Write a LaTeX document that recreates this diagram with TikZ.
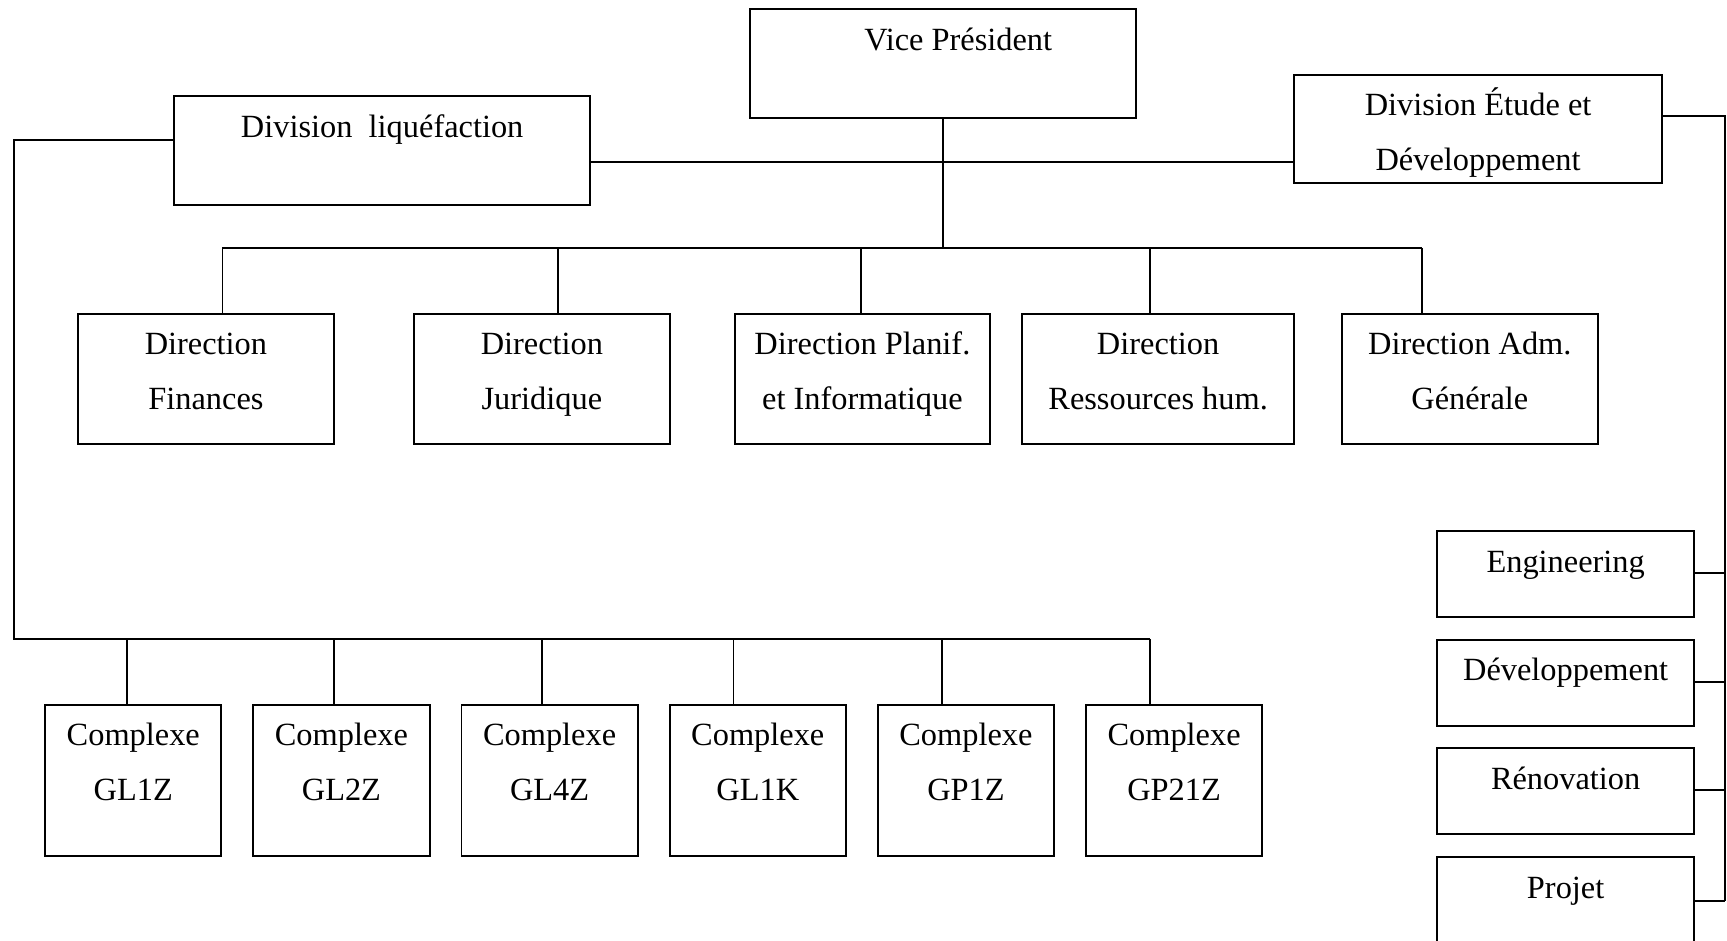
\documentclass[tikz,border=0pt]{standalone}
\usepackage{fontspec}
\setmainfont{Liberation Serif}
\begin{document}
\begin{tikzpicture}[x=0.5pt,y=-0.5pt,
  box/.style={draw, line width=0.9pt, rectangle, inner sep=0pt},
  txt/.style={anchor=base, inner sep=0pt, font=\fontsize{14.7pt}{18pt}\selectfont},
  conn/.style={line width=0.85pt}]
\useasboundingbox (0,0) rectangle (1568,854);
\fill[white] (0,0) rectangle (1568,854);
\clip (0,0) rectangle (1568,854);

% top level
\node[box, minimum width=175pt, minimum height=49.5pt] (vp) at (856,57.5) {};
\node[txt] (tvp) at (870,46) {Vice Président};
\node[box, minimum width=189pt, minimum height=49.5pt] (dl) at (347,136.5) {};
\node[txt] (tdl) at (347,125) {Division\ \ liquéfaction};
\node[box, minimum width=167pt, minimum height=49pt] (de) at (1342,117) {};
\node[txt] (tde1) at (1342,105) {Division Étude et};
\node[txt] (tde2) at (1342,155) {Développement};

% directions
\node[box, minimum width=116pt, minimum height=59pt] (d1) at (187,344) {};
\node[txt] at (187,322) {Direction};
\node[txt] at (187,372) {Finances};
\node[box, minimum width=116pt, minimum height=59pt] (d2) at (492,344) {};
\node[txt] at (492,322) {Direction};
\node[txt] at (492,372) {Juridique};
\node[box, minimum width=116pt, minimum height=59pt] (d3) at (783,344) {};
\node[txt] at (783,322) {Direction Planif.};
\node[txt] at (783,372) {et Informatique};
\node[box, minimum width=123.5pt, minimum height=59pt] (d4) at (1051.5,344) {};
\node[txt] at (1051.5,322) {Direction};
\node[txt] at (1051.5,372) {Ressources hum.};
\node[box, minimum width=116.5pt, minimum height=59pt] (d5) at (1334.5,344) {};
\node[txt] at (1334.5,322) {Direction Adm.};
\node[txt] at (1334.5,372) {Générale};

% complexes
\foreach \n/\cx/\lab in {c1/121/GL1Z, c2/310/GL2Z, c3/499/GL4Z, c4/688/GL1K, c5/877/GP1Z, c6/1066/GP21Z}{
  \node[box, minimum width=80pt, minimum height=68.5pt] (\n) at (\cx,708.5) {};
  \node[txt] at (\cx,677) {Complexe};
  \node[txt] at (\cx,727) {\lab};
}

% sub-divisions
\node[box, minimum width=116.5pt, minimum height=39pt] (eng) at (1421.5,521) {};
\node[txt] at (1421.5,520) {Engineering};
\node[box, minimum width=116.5pt, minimum height=39pt] (dev) at (1421.5,620) {};
\node[txt] at (1421.5,618) {Développement};
\node[box, minimum width=116.5pt, minimum height=39pt] (ren) at (1421.5,718) {};
\node[txt] at (1421.5,717) {Rénovation};
\node[box, minimum width=116.5pt, minimum height=50pt] (proj) at (1421.5,828) {};
\node[txt] at (1421.5,816) {Projet};

% connectors: VP to directions
\coordinate (jD) at (856,225);
\coordinate (j1) at (202,225);
\coordinate (j2) at (507,225);
\coordinate (j3) at (782,225);
\coordinate (j4) at (1044,225);
\coordinate (j5) at (1291,225);
\draw[conn] (vp.south) -- (jD);
\draw[conn] (j1) -- (j5);
\draw[conn] (j1) -- (j1 |- d1.north);
\draw[conn] (j2) -- (j2 |- d2.north);
\draw[conn] (j3) -- (j3 |- d3.north);
\draw[conn] (j4) -- (j4 |- d4.north);
\draw[conn] (j5) -- (j5 |- d5.north);

% divisions link
\coordinate (hl) at (0,147);
\draw[conn] (dl.east |- hl) -- (de.west |- hl);

% liquefaction to complexes
\coordinate (lq) at (0,127);
\coordinate (lcorner) at (13,580);
\coordinate (k1) at (115,580);
\coordinate (k2) at (303,580);
\coordinate (k3) at (492,580);
\coordinate (k4) at (666,580);
\coordinate (k5) at (855,580);
\coordinate (k6) at (1044,580);
\draw[conn] (dl.west |- lq) -| (lcorner) -- (k6);
\draw[conn] (k1) -- (k1 |- c1.north);
\draw[conn] (k2) -- (k2 |- c2.north);
\draw[conn] (k3) -- (k3 |- c3.north);
\draw[conn] (k4) -- (k4 |- c4.north);
\draw[conn] (k5) -- (k5 |- c5.north);
\draw[conn] (k6) -- (k6 |- c6.north);

% etude to sub-divisions
\coordinate (rq) at (0,105);
\coordinate (q1) at (1566,520);
\coordinate (q2) at (1566,619);
\coordinate (q3) at (1566,717);
\coordinate (q4) at (1566,818);
\draw[conn] (de.east |- rq) -| (q4);
\draw[conn] (eng.east |- q1) -- (q1);
\draw[conn] (dev.east |- q2) -- (q2);
\draw[conn] (ren.east |- q3) -- (q3);
\draw[conn] (proj.east |- q4) -- (q4);
\end{tikzpicture}
\end{document}
